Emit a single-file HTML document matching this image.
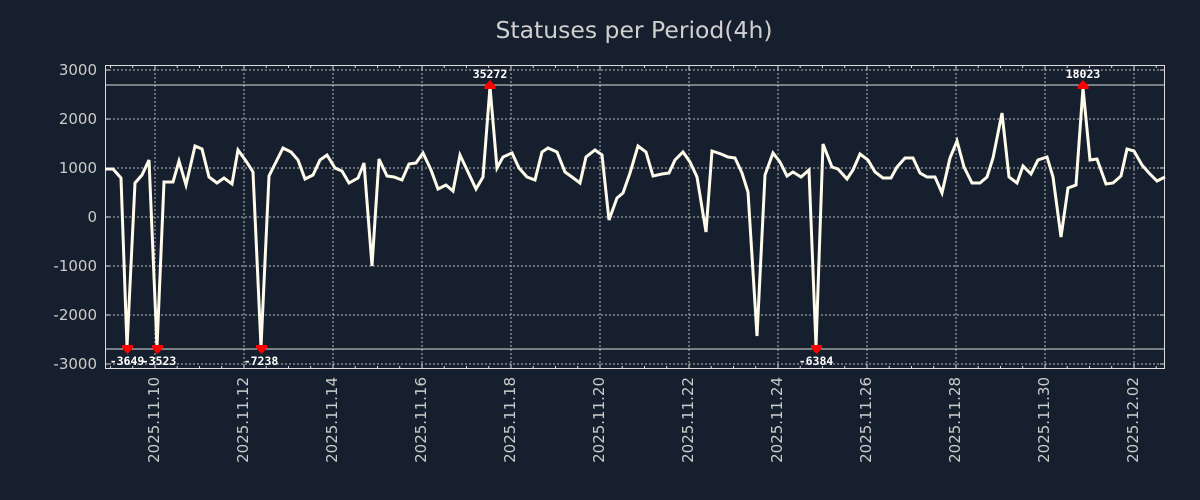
<!DOCTYPE html>
<html><head><meta charset="utf-8"><style>
html,body{margin:0;padding:0;background:#151f2d;}
svg{display:block;font-family:"DejaVu Sans","Liberation Sans",sans-serif;}
</style></head><body>
<svg width="1200" height="500" viewBox="0 0 1200 500" xmlns="http://www.w3.org/2000/svg">
<rect width="1200" height="500" fill="#151f2d"/>
<text x="634" y="38" text-anchor="middle" font-size="23.5" fill="#d0d0d0">Statuses per Period(4h)</text>
<g stroke="#b8b8b8" stroke-width="1" stroke-dasharray="2,2">
<line x1="105" x2="1165" y1="70" y2="70"/><line x1="105" x2="1165" y1="119" y2="119"/>
<line x1="105" x2="1165" y1="168" y2="168"/><line x1="105" x2="1165" y1="217" y2="217"/>
<line x1="105" x2="1165" y1="266" y2="266"/><line x1="105" x2="1165" y1="315" y2="315"/>
<line x1="105" x2="1165" y1="364" y2="364"/>
<line x1="155" x2="155" y1="65" y2="369"/><line x1="244" x2="244" y1="65" y2="369"/>
<line x1="333" x2="333" y1="65" y2="369"/><line x1="422" x2="422" y1="65" y2="369"/>
<line x1="511" x2="511" y1="65" y2="369"/><line x1="600" x2="600" y1="65" y2="369"/>
<line x1="689" x2="689" y1="65" y2="369"/><line x1="778" x2="778" y1="65" y2="369"/>
<line x1="867" x2="867" y1="65" y2="369"/><line x1="956" x2="956" y1="65" y2="369"/>
<line x1="1045" x2="1045" y1="65" y2="369"/><line x1="1134" x2="1134" y1="65" y2="369"/>
</g>
<g stroke="#dddddd" stroke-width="1">
<line x1="105" x2="1165" y1="85" y2="85"/><line x1="105" x2="1165" y1="349" y2="349"/>
</g>
<rect x="105.5" y="65.5" width="1059" height="303" fill="none" stroke="#dddddd" stroke-width="1"/>
<g stroke="#dddddd" stroke-width="1">
<path d="M155 369v-5M244 369v-5M333 369v-5M422 369v-5M511 369v-5M600 369v-5M689 369v-5M778 369v-5M867 369v-5M956 369v-5M1045 369v-5M1134 369v-5"/>
<path d="M155 65v5M244 65v5M333 65v5M422 65v5M511 65v5M600 65v5M689 65v5M778 65v5M867 65v5M956 65v5M1045 65v5M1134 65v5"/>
<path d="M105 70h5M105 119h5M105 168h5M105 217h5M105 266h5M105 315h5M105 364h5M1165 70h-5M1165 119h-5M1165 168h-5M1165 217h-5M1165 266h-5M1165 315h-5M1165 364h-5"/>
<path d="M110.5 369v-3M132.7 369v-3M177.2 369v-3M199.5 369v-3M221.7 369v-3M266.2 369v-3M288.5 369v-3M310.7 369v-3M355.2 369v-3M377.5 369v-3M399.7 369v-3M444.2 369v-3M466.5 369v-3M488.7 369v-3M533.2 369v-3M555.5 369v-3M577.7 369v-3M622.2 369v-3M644.5 369v-3M666.7 369v-3M711.2 369v-3M733.5 369v-3M755.7 369v-3M800.2 369v-3M822.5 369v-3M844.7 369v-3M889.2 369v-3M911.5 369v-3M933.7 369v-3M978.2 369v-3M1000.5 369v-3M1022.7 369v-3M1067.2 369v-3M1089.5 369v-3M1111.7 369v-3M1156.2 369v-3"/>
<path d="M110.5 65v3M132.7 65v3M177.2 65v3M199.5 65v3M221.7 65v3M266.2 65v3M288.5 65v3M310.7 65v3M355.2 65v3M377.5 65v3M399.7 65v3M444.2 65v3M466.5 65v3M488.7 65v3M533.2 65v3M555.5 65v3M577.7 65v3M622.2 65v3M644.5 65v3M666.7 65v3M711.2 65v3M733.5 65v3M755.7 65v3M800.2 65v3M822.5 65v3M844.7 65v3M889.2 65v3M911.5 65v3M933.7 65v3M978.2 65v3M1000.5 65v3M1022.7 65v3M1067.2 65v3M1089.5 65v3M1111.7 65v3M1156.2 65v3"/>
</g>
<g font-size="15" fill="#cccccc" text-anchor="end">
<text x="97" y="75">3000</text><text x="97" y="124">2000</text><text x="97" y="173">1000</text>
<text x="97" y="222">0</text><text x="97" y="271">-1000</text><text x="97" y="320">-2000</text><text x="97" y="369">-3000</text>
</g>
<g font-size="15" fill="#cccccc" text-anchor="end">
<text transform="translate(159,377) rotate(-90)">2025.11.10</text>
<text transform="translate(248,377) rotate(-90)">2025.11.12</text>
<text transform="translate(337,377) rotate(-90)">2025.11.14</text>
<text transform="translate(426,377) rotate(-90)">2025.11.16</text>
<text transform="translate(515,377) rotate(-90)">2025.11.18</text>
<text transform="translate(604,377) rotate(-90)">2025.11.20</text>
<text transform="translate(693,377) rotate(-90)">2025.11.22</text>
<text transform="translate(782,377) rotate(-90)">2025.11.24</text>
<text transform="translate(871,377) rotate(-90)">2025.11.26</text>
<text transform="translate(960,377) rotate(-90)">2025.11.28</text>
<text transform="translate(1049,377) rotate(-90)">2025.11.30</text>
<text transform="translate(1138,377) rotate(-90)">2025.12.02</text>
</g>
<polyline fill="none" stroke="#fffbea" stroke-width="3" stroke-linejoin="miter" points="
105,169 113,169 121,178 127,347 135,183 142,175 149,160 157,347 164,182 173,182 179,161 186,185 195,146 202,149 209,177 217,183 224,178 232,184 238,150 246,161 253,172 261,347 269,176 276,162 283,148 291,152 298,160 305,179 313,175 320,160 327,155 335,168 342,171 349,183 358,178 364,163 372,266 379,159 387,176 394,177 402,180 409,164 416,163 423,153 431,170 438,189 446,185 453,191 460,155 468,172 476,189 483,177 490,87 497,168 503,157 512,153 519,168 527,177 535,180 542,152 548,148 557,152 565,172 572,177 580,183 586,157 595,150 602,155 609,220 617,198 623,193 630,173 638,146 646,152 653,176 662,174 669,173 675,160 683,152 690,162 697,177 706,232 712,151 721,154 728,157 735,158 742,173 748,192 757,336 765,175 773,153 780,162 787,176 793,172 801,177 809,170 816,347 823,144 832,167 838,169 847,179 853,170 860,154 868,160 875,172 883,178 891,178 897,167 905,158 913,158 920,173 927,177 935,177 942,193 950,158 957,141 964,167 972,183 980,183 987,177 993,158 1002,113 1009,177 1017,183 1023,166 1031,174 1038,160 1047,157 1053,177 1061,237 1068,188 1076,185 1083,88 1090,160 1097,159 1106,184 1113,183 1121,176 1127,149 1134,151 1142,165 1149,173 1157,181 1165,177"/>
<g fill="#ff0000">
<polygon points="122,345 133,345 133,348 127.5,354 122,348"/><polygon points="152,345 163,345 163,348 157.5,354 152,348"/>
<polygon points="256,345 267,345 267,348 261.5,354 256,348"/><polygon points="811,345 822,345 822,348 816.5,354 811,348"/>
<polygon points="484.5,89 495.5,89 495.5,86 490,80 484.5,86"/><polygon points="1077.5,89 1088.5,89 1088.5,86 1083,80 1077.5,86"/>
</g>
<g font-size="11.5" font-weight="bold" fill="#ffffff" font-family="'DejaVu Sans Mono','Liberation Mono',monospace" text-anchor="middle">
<text x="127" y="365">-3649</text><text x="159" y="365">-3523</text><text x="261" y="365">-7238</text>
<text x="816" y="365">-6384</text><text x="490" y="78">35272</text><text x="1083" y="78">18023</text>
</g>
</svg>
</body></html>
